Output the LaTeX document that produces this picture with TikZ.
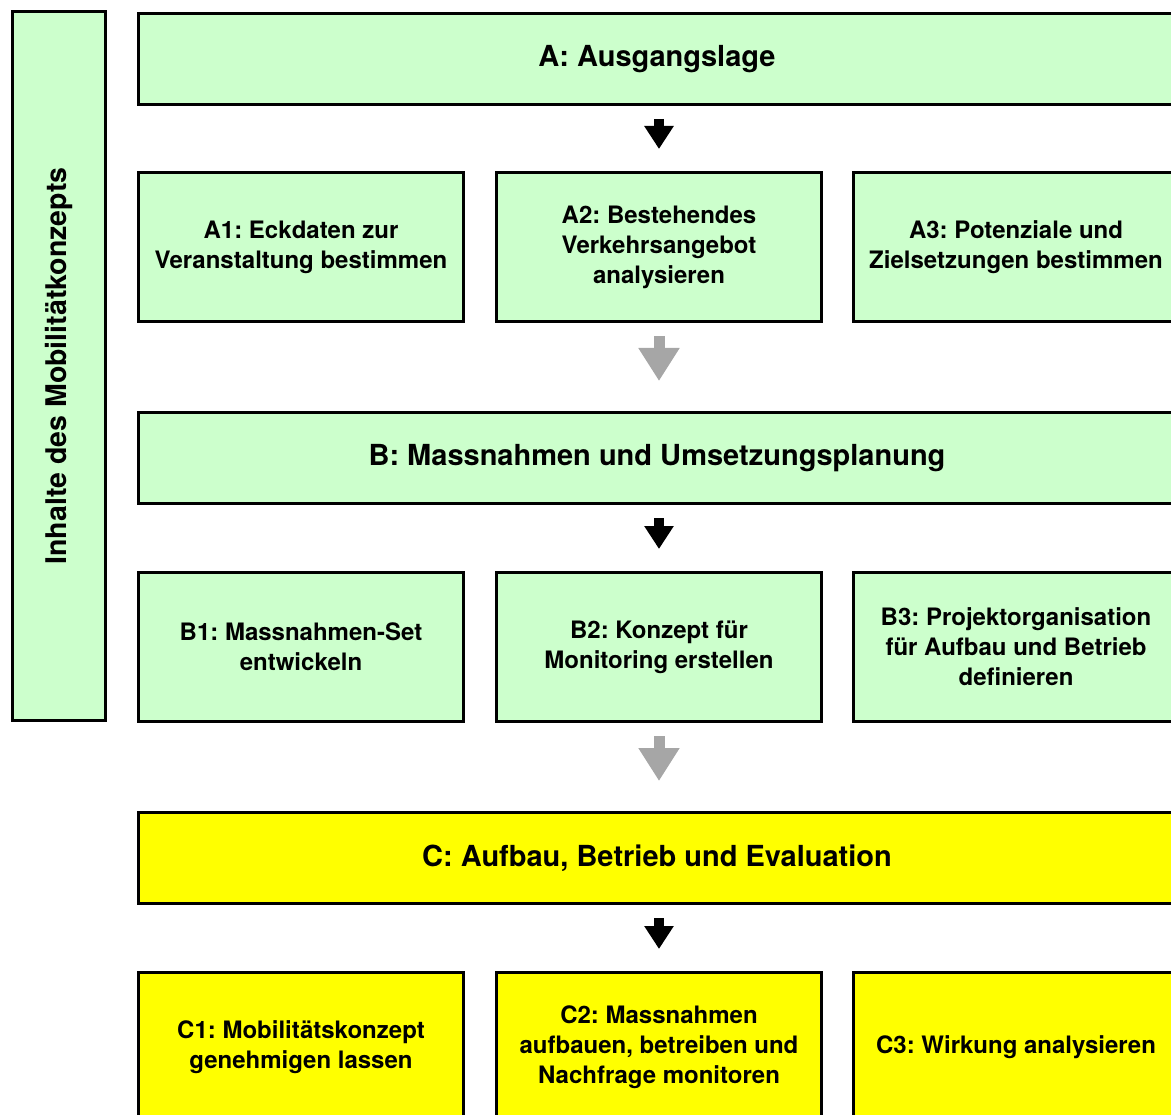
\documentclass[tikz,border=0pt]{standalone}
\usepackage{fontspec}
\setmainfont{TeX Gyre Heros}
\usetikzlibrary{arrows.meta,calc}
\definecolor{mkGreen}{HTML}{CCFFCC}
\definecolor{mkYellow}{HTML}{FFFF00}
\definecolor{mkGray}{HTML}{A6A6A6}
\frenchspacing

\tikzset{
  mainbox/.style={draw=black, line width=3pt, anchor=north west, minimum width=1037pt, minimum height=91pt, font=\fontsize{29}{34}\selectfont\bfseries},
  subbox/.style={draw=black, line width=3pt, anchor=north west, minimum width=325pt, minimum height=149pt, align=center, font=\fontsize{24}{30}\selectfont\bfseries},
  darrow/.style={line width=10pt, -{Triangle[length=23pt, width=28pt]}, shorten <=13pt, shorten >=22pt},
  garrow/.style={draw=mkGray, line width=11pt, -{Triangle[length=33pt, width=39pt]}, shorten <=13pt, shorten >=30pt}
}

\begin{document}
\begin{tikzpicture}[x=1pt, y=-1pt]
  \useasboundingbox (0,0) rectangle (1171,1115);
  \clip (0,0) rectangle (1171,1115);
  \node[draw=black, line width=3pt, fill=mkGreen, rotate=90, minimum width=708pt, minimum height=93pt, font=\fontsize{28.5}{34}\selectfont\bfseries] (side) at (58.5,366) {Inhalte des Mobilitätkonzepts};

  \node[mainbox, fill=mkGreen] (A) at (137,12) {A: Ausgangslage};
  \node[subbox, fill=mkGreen] (A1) at (137,171) {A1: Eckdaten zur\\Veranstaltung bestimmen};
  \node[subbox, fill=mkGreen] (A2) at (495,171) {A2: Bestehendes\\Verkehrsangebot\\analysieren};
  \node[subbox, fill=mkGreen] (A3) at (852,171) {A3: Potenziale und\\Zielsetzungen bestimmen};

  \node[mainbox, fill=mkGreen] (B) at (137,411) {B: Massnahmen und Umsetzungsplanung};
  \node[subbox, fill=mkGreen] (B1) at (137,571) {B1: Massnahmen-Set\\entwickeln};
  \node[subbox, fill=mkGreen] (B2) at (495,571) {B2: Konzept für\\Monitoring erstellen};
  \node[subbox, fill=mkGreen] (B3) at (852,571) {B3: Projektorganisation\\für Aufbau und Betrieb\\definieren};

  \node[mainbox, fill=mkYellow] (C) at (137,811) {C: Aufbau, Betrieb und Evaluation};
  \node[subbox, fill=mkYellow] (C1) at (137,971) {C1: Mobilitätskonzept\\genehmigen lassen};
  \node[subbox, fill=mkYellow] (C2) at (495,971) {C2: Massnahmen\\aufbauen, betreiben und\\Nachfrage monitoren};
  \node[subbox, fill=mkYellow] (C3) at (852,971) {C3: Wirkung analysieren};

  \draw[darrow] (A.south -| A2.north) -- (A2.north);
  \draw[garrow] (A2.south) -- (B.north -| A2.south);
  \draw[darrow] (B.south -| B2.north) -- (B2.north);
  \draw[garrow] (B2.south) -- (C.north -| B2.south);
  \draw[darrow] (C.south -| C2.north) -- (C2.north);
\end{tikzpicture}
\end{document}
